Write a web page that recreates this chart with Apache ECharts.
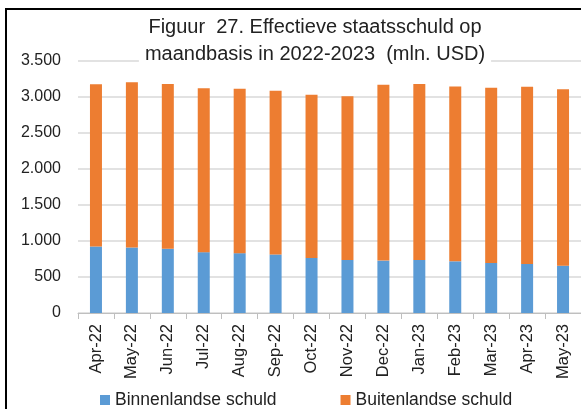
<!DOCTYPE html>
<html>
<head>
<meta charset="utf-8">
<script src="https://cdn.jsdelivr.net/npm/echarts@6/dist/echarts.min.js"></script>
<style>
  html, body { margin: 0; padding: 0; background: #fff; }
  #chart { width: 581px; height: 409px; }
</style>
</head>
<body>
<div id="chart"></div>
<script>
var months = ["Apr-22", "May-22", "Jun-22", "Jul-22", "Aug-22", "Sep-22", "Oct-22",
              "Nov-22", "Dec-22", "Jan-23", "Feb-23", "Mar-23", "Apr-23", "May-23"];
var binnenlandse = [923, 909, 891, 845, 831, 813, 765, 737, 728, 737, 718, 695, 681, 657];
var buitenlandse = [2253, 2295, 2289, 2278, 2283, 2273, 2265, 2274, 2442, 2443, 2429, 2434, 2462, 2450];
var y_ticks = [0, 500, 1000, 1500, 2000, 2500, 3000, 3500];

var font = "Liberation Sans";

function fmt(v) {
    return v >= 1000 ? Math.floor(v / 1000) + "." + String(v % 1000).padStart(3, "0") : String(v);
}

var option = {
    animation: false,
    textStyle: { fontFamily: font },
    title: {
        text: "Figuur  27. Effectieve staatsschuld op\nmaandbasis in 2022-2023  (mln. USD)",
        left: 309,
        top: 12,
        textAlign: "center",
        backgroundColor: "#fff",
        padding: [2, 6, 2, 6],
        textStyle: { fontFamily: font, fontSize: 20, fontWeight: "normal", color: "#222", lineHeight: 27 }
    },
    legend: {
        top: 386,
        left: 95,
        icon: "rect",
        itemWidth: 10,
        itemHeight: 10,
        itemGap: 64,
        textStyle: { fontFamily: font, fontSize: 17.5, color: "#222" },
        data: ["Binnenlandse schuld", "Buitenlandse schuld"]
    },
    grid: { left: 78, right: -3, top: 61, bottom: 96, containLabel: false },
    xAxis: {
        type: "category",
        data: months,
        axisLine: { lineStyle: { color: "#bfbfbf", width: 1 } },
        axisTick: { show: true, length: 6, lineStyle: { color: "#bfbfbf" } },
        axisLabel: { rotate: 90, fontSize: 16.5, color: "#222", margin: 11, fontFamily: font }
    },
    yAxis: {
        type: "value",
        min: y_ticks[0],
        max: y_ticks[y_ticks.length - 1],
        interval: 500,
        axisLine: { show: false },
        axisTick: { show: false },
        axisLabel: { fontSize: 16, color: "#222", margin: 17, fontFamily: font, formatter: fmt },
        splitLine: { lineStyle: { color: "#d9d9d9", width: 1.5 } }
    },
    series: [
        {
            name: "Binnenlandse schuld",
            type: "bar",
            stack: "total",
            barWidth: 12,
            data: binnenlandse,
            itemStyle: { color: "#5b9bd5" }
        },
        {
            name: "Buitenlandse schuld",
            type: "bar",
            stack: "total",
            barWidth: 12,
            data: buitenlandse,
            itemStyle: { color: "#ed7d31" }
        }
    ],
    graphic: [{
        type: "rect",
        shape: { x: 6, y: 9, width: 620, height: 430 },
        style: { fill: null, stroke: "#000", lineWidth: 2 },
        z: 100
    }]
};

var chart = echarts.init(document.getElementById("chart"));
chart.setOption(option);
</script>
</body>
</html>
